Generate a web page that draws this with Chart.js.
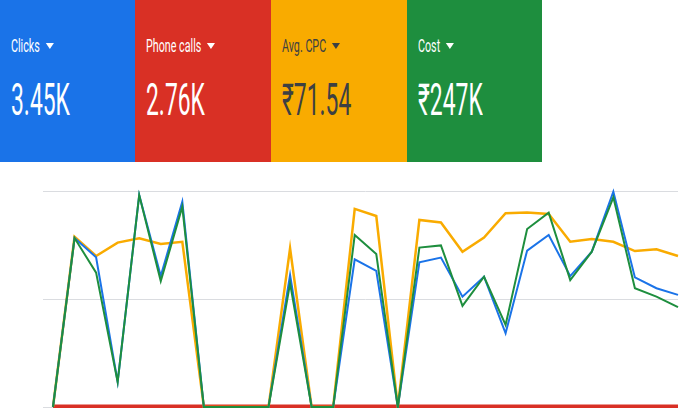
<!DOCTYPE html>
<html>
<head>
<meta charset="utf-8">
<script src="https://cdn.jsdelivr.net/npm/chart.js@4.4.1/dist/chart.umd.min.js"></script>
<style>
  html, body { margin: 0; padding: 0; background: #fff; width: 680px; height: 408px; overflow: hidden;
               font-family: Roboto, "Noto Sans", sans-serif; }
  #chart { position: absolute; left: 0; top: 0; }
  .tile { position: absolute; top: 0; height: 162px; }
  .head { position: absolute; left: 11px; top: 37px; font-size: 18.5px; line-height: 18px; white-space: nowrap;
          transform: scaleX(.58); transform-origin: 0 0; display: flex; align-items: center; }
  .tri  { display: inline-block; width: 0; height: 0; margin-left: 10px;
          border-left: 7px solid transparent; border-right: 7px solid transparent; border-top: 6px solid currentColor; }
  .val  { position: absolute; left: 11px; top: 78px; font-size: 44px; line-height: 44px; white-space: nowrap;
          transform: scaleX(.52); transform-origin: 0 0; }
</style>
</head>
<body>
<canvas id="chart" width="680" height="408"></canvas>
<div id="tiles"></div>
<script>
/* ── scorecards ── */
const metricNames  = ['Clicks', 'Phone calls', 'Avg. CPC', 'Cost'];
const metricTotals = ['3.45K', '2.76K', '₹71.54', '₹247K'];
const tileColors   = ['#1a73e8', '#d93025', '#f9ab00', '#1e8e3e'];
const tileText     = ['#fff', '#fff', '#3c4043', '#fff'];
const tileLeft     = [0, 135, 271, 407, 542];

/* ── daily series (0 = bottom gridline, 100 = top gridline) ── */
const days = ['1','2','3','4','5','6','7','8','9','10','11','12','13','14','15',
              '16','17','18','19','20','21','22','23','24','25','26','27','28','29','30'];
const clicks = [0, 78.2, 69.3, 11.6, 98.1, 60.6, 95.0, 0, 0, 0, 0, 61.1, 0, 0, 68.4,
                63.0, 0, 67.0, 69.2, 51.1, 60.3, 34.1, 72.4, 79.6, 60.6, 71.9, 99.7, 60.0, 55.0, 51.9];
const phoneCalls = [0, 0, 0, 0, 0, 0, 0, 0, 0, 0, 0, 0, 0, 0, 0,
                    0, 0, 0, 0, 0, 0, 0, 0, 0, 0, 0, 0, 0, 0, 0];
const avgCpc = [0, 78.8, 69.9, 76.1, 78.1, 75.5, 76.5, 0, 0, 0, 0, 73.5, 0, 0, 91.7,
                88.4, 0, 86.6, 85.4, 71.9, 78.4, 89.7, 90.1, 89.4, 76.5, 77.8, 76.5, 72.2, 73.0, 69.9];
const cost = [0, 78.2, 62.2, 11.6, 98.1, 58.3, 92.7, 0, 0, 0, 0, 57.3, 0, 0, 79.6,
              70.8, 0, 73.8, 74.8, 46.8, 60.3, 38.0, 82.4, 90.0, 58.8, 71.9, 97.1, 55.0, 51.1, 46.2];

const tiles = document.getElementById('tiles');
metricNames.forEach((name, i) => {
  const t = document.createElement('div');
  t.className = 'tile';
  t.style.left = tileLeft[i] + 'px';
  t.style.width = (tileLeft[i + 1] - tileLeft[i]) + 'px';
  t.style.background = tileColors[i];
  t.style.color = tileText[i];
  t.innerHTML = `<div class="head"><span>${name}</span><span class="tri"></span></div>` +
                `<div class="val">${metricTotals[i]}</div>`;
  tiles.appendChild(t);
});

const line = (data, color, width, order) => ({
  data, borderColor: color, borderWidth: width, order,
  pointRadius: 0, tension: 0, fill: false, clip: false
});

new Chart(document.getElementById('chart'), {
  type: 'line',
  data: {
    labels: days,
    datasets: [
      line(cost,       '#1e8e3e', 2,   0),
      line(clicks,     '#1a73e8', 2,   1),
      line(avgCpc,     '#f9ab00', 2.5, 2),
      line(phoneCalls, '#d93025', 5,   3)
    ]
  },
  options: {
    responsive: false, animation: false, devicePixelRatio: 1,
    layout: { padding: { top: 191, left: 43, right: 2, bottom: 1 } },
    plugins: { legend: { display: false }, tooltip: { enabled: false } },
    scales: {
      x: { display: false },
      y: {
        min: 0, max: 100,
        ticks: { display: false, stepSize: 50 },
        border: { display: false },
        grid: { color: '#dadce0', lineWidth: 1, tickLength: 10 },
        afterFit: s => { s.width = 10; }
      }
    }
  }
});
</script>
</body>
</html>
